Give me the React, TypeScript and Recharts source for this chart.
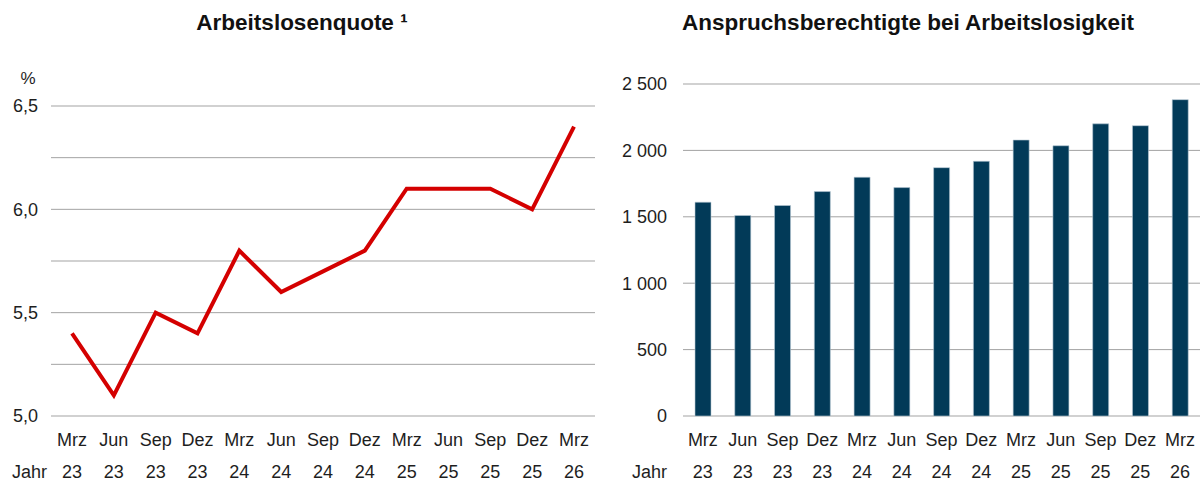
import React from "react";
import { LineChart, Line, BarChart, Bar, XAxis, YAxis, CartesianGrid } from "recharts";

const months = ["Mrz", "Jun", "Sep", "Dez", "Mrz", "Jun", "Sep", "Dez", "Mrz", "Jun", "Sep", "Dez", "Mrz"];
const years = ["23", "23", "23", "23", "24", "24", "24", "24", "25", "25", "25", "25", "26"];
const quote = [5.4, 5.1, 5.5, 5.4, 5.8, 5.6, 5.7, 5.8, 6.1, 6.1, 6.1, 6.0, 6.4];
const berechtigte = [1610, 1510, 1585, 1690, 1798, 1720, 1870, 1918, 2078, 2035, 2200, 2186, 2382];
const quoteTicks = [5, 5.25, 5.5, 5.75, 6, 6.25, 6.5];
const berTicks = [0, 500, 1000, 1500, 2000, 2500];

const FONT = "'Liberation Sans', Arial, Helvetica, sans-serif";
const TEXT = "#1e1e1e";
const GRID = "#a3a3a3";
const TICK_SIZE = 18;

const lineData = months.map((m, i) => ({ label: `${m} ${years[i]}`, quote: quote[i] }));
const barData = months.map((m, i) => ({ label: `${m} ${years[i]}`, value: berechtigte[i] }));

const fmtQuote = (v: number) => (Math.abs((v * 2) % 1) < 1e-9 ? v.toFixed(1).replace(".", ",") : "");
const fmtThousands = (v: number) =>
    v >= 1000 ? `${Math.floor(v / 1000)} ${String(v % 1000).padStart(3, "0")}` : String(v);

function makeTick(jahrX: number) {
    return function QuarterTick(props: any) {
        const { x, y, payload, index } = props;
        const [m, yr] = String(payload.value).split(" ");
        return (
            <g>
                <text x={x} y={y + 24} textAnchor="middle" dominantBaseline="central" fill={TEXT} fontSize={TICK_SIZE} fontFamily={FONT}>
                    {m}
                </text>
                <text x={x} y={y + 56} textAnchor="middle" dominantBaseline="central" fill={TEXT} fontSize={TICK_SIZE} fontFamily={FONT}>
                    {yr}
                </text>
                {index === 0 && (
                    <text x={jahrX} y={y + 56} textAnchor="start" dominantBaseline="central" fill={TEXT} fontSize={TICK_SIZE} fontFamily={FONT}>
                        Jahr
                    </text>
                )}
            </g>
        );
    };
}

const titleStyle: React.CSSProperties = {
    position: "absolute",
    top: 9,
    height: 28,
    lineHeight: "28px",
    fontSize: 22.5,
    fontWeight: "bold",
    textAlign: "center",
    color: "#111",
    fontFamily: FONT,
};

export default function App() {
    return (
        <div style={{ position: "absolute", left: 0, top: 0, width: 1204, height: 483, background: "#fff", fontFamily: FONT }}>
            <div style={{ ...titleStyle, left: 0, width: 604 }}>Arbeitslosenquote ¹</div>
            <div style={{ ...titleStyle, left: 608, width: 600 }}>Anspruchsberechtigte bei Arbeitslosigkeit</div>
            <div style={{ position: "absolute", left: 17, width: 22, top: 68, lineHeight: "22px", fontSize: 17, textAlign: "center", color: TEXT }}>%</div>

            <div style={{ position: "absolute", left: 0, top: 0 }}>
                <LineChart width={600} height={483} data={lineData} margin={{ top: 106, right: 5, bottom: 7, left: 0 }}>
                    <CartesianGrid vertical={false} stroke={GRID} strokeWidth={1} />
                    <XAxis
                        dataKey="label"
                        interval={0}
                        height={60}
                        axisLine={false}
                        tickLine={false}
                        tickSize={0}
                        tickMargin={0}
                        padding={{ left: 21, right: 21 }}
                        tick={makeTick(12)}
                    />
                    <YAxis
                        domain={[5, 6.5]}
                        ticks={quoteTicks}
                        interval={0}
                        width={51}
                        axisLine={false}
                        tickLine={false}
                        tickSize={0}
                        tickMargin={13}
                        tickFormatter={fmtQuote}
                        tick={{ fill: TEXT, fontSize: TICK_SIZE, fontFamily: FONT }}
                    />
                    <Line type="linear" dataKey="quote" stroke="#d40000" strokeWidth={4} dot={false} isAnimationActive={false} />
                </LineChart>
            </div>

            <div style={{ position: "absolute", left: 600, top: 0 }}>
                <BarChart width={604} height={483} data={barData} margin={{ top: 84, right: 4, bottom: 7, left: 0 }}>
                    <CartesianGrid vertical={false} stroke={GRID} strokeWidth={1} />
                    <XAxis
                        dataKey="label"
                        interval={0}
                        height={60}
                        axisLine={false}
                        tickLine={false}
                        tickSize={0}
                        tickMargin={0}
                        tick={makeTick(32)}
                    />
                    <YAxis
                        domain={[0, 2500]}
                        ticks={berTicks}
                        interval={0}
                        width={83}
                        axisLine={false}
                        tickLine={false}
                        tickSize={0}
                        tickMargin={16}
                        tickFormatter={fmtThousands}
                        tick={{ fill: TEXT, fontSize: TICK_SIZE, fontFamily: FONT }}
                    />
                    <Bar dataKey="value" fill="#023a58" stroke="#b9c9d5" strokeWidth={0.6} barSize={16} isAnimationActive={false} />
                </BarChart>
            </div>
        </div>
    );
}
